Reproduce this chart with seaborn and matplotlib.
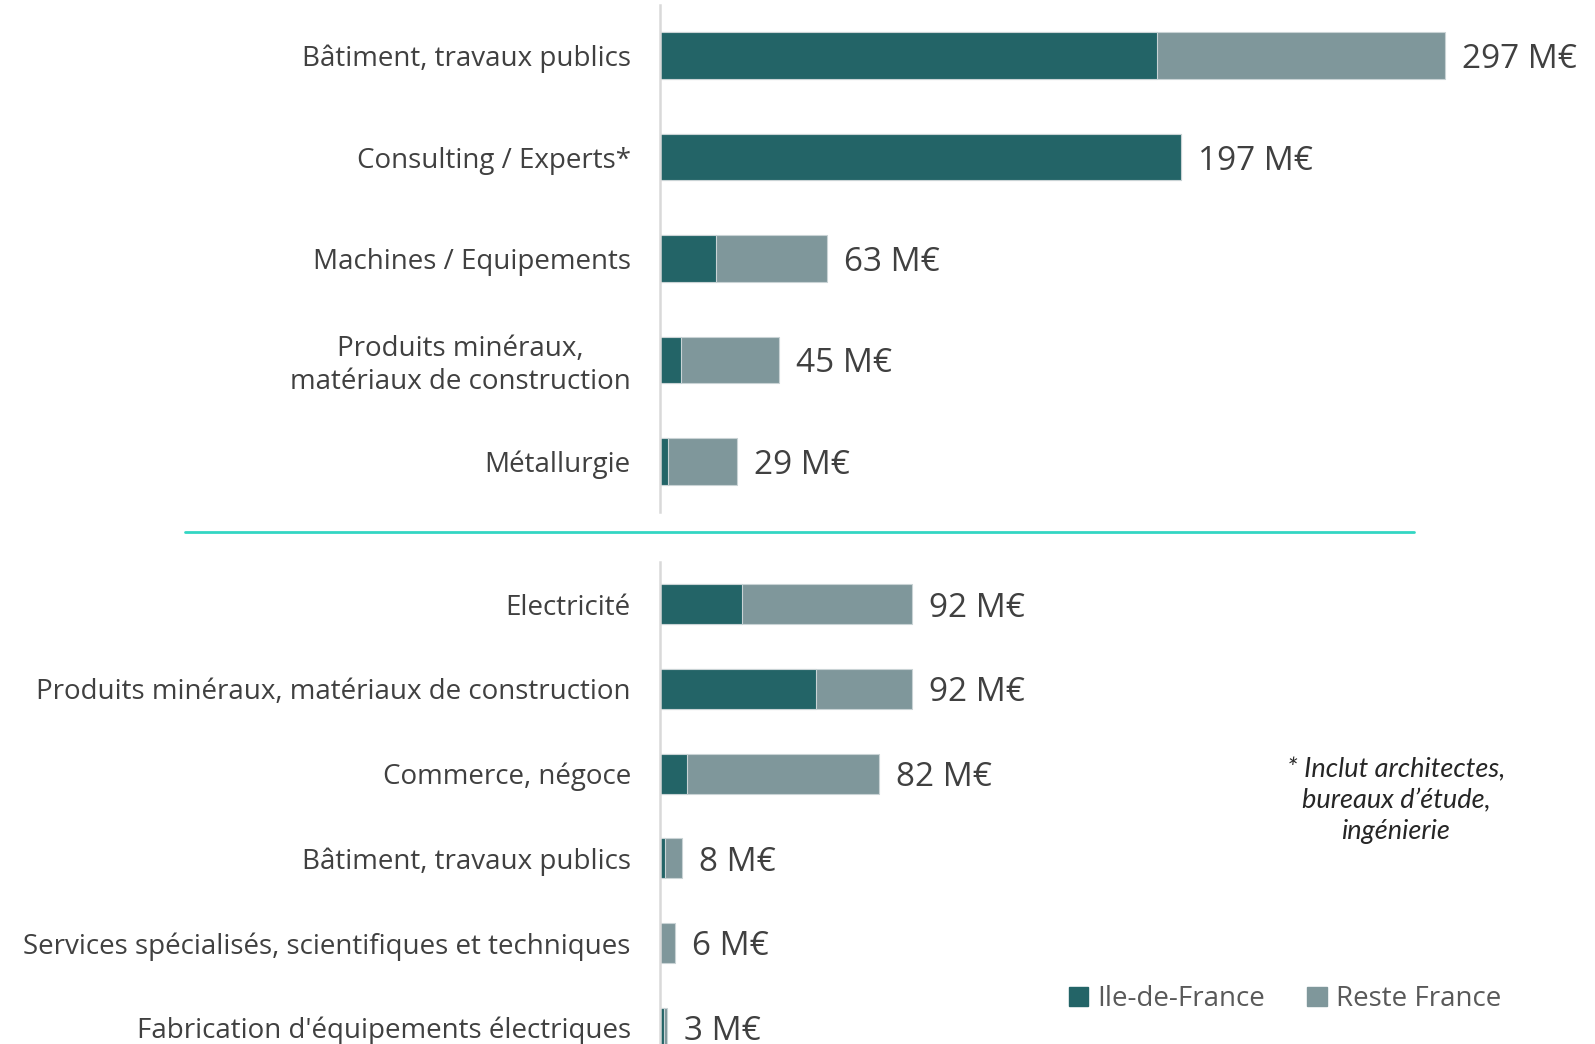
import pandas as pd
import seaborn as sns
import matplotlib.pyplot as plt
from matplotlib.lines import Line2D
from matplotlib.patches import Patch

# Données (M€)
haut_secteurs = ['Bâtiment, travaux publics', 'Consulting / Experts*', 'Machines / Equipements',
                 'Produits minéraux,\nmatériaux de construction', 'Métallurgie']
haut_idf = [188, 197, 21, 8, 3]
haut_reste = [109, 0, 42, 37, 26]
haut_labels = ['297 M€', '197 M€', '63 M€', '45 M€', '29 M€']

bas_secteurs = ['Electricité', 'Produits minéraux, matériaux de construction', 'Commerce, négoce',
                'Bâtiment, travaux publics', 'Services spécialisés, scientifiques et techniques',
                "Fabrication d'équipements électriques"]
bas_idf = [30, 57, 10, 2, 0, 1.5]
bas_reste = [62, 35, 70, 6, 5.5, 1]
bas_labels = ['92 M€', '92 M€', '82 M€', '8 M€', '6 M€', '3 M€']

couleur_idf = '#236467'
couleur_reste = '#7f979b'
gris_texte = '#404040'

sns.set_theme(style='white')
plt.rcParams['font.family'] = ['Open Sans', 'DejaVu Sans']

fig = plt.figure(figsize=(15.95, 10.44), dpi=100)
ax_haut = fig.add_axes([660 / 1595, 0.5096, 935 / 1595, 0.4856])
ax_bas = fig.add_axes([660 / 1595, -0.0249, 935 / 1595, 0.4866])


def tracer(ax, secteurs, idf, reste, labels, xmax, largeur):
    df = pd.DataFrame({'secteur': secteurs, 'idf': idf, 'reste': reste})
    df['total'] = df['idf'] + df['reste']
    sns.barplot(data=df, y='secteur', x='total', orient='h', color=couleur_reste,
                width=largeur, saturation=1, edgecolor='#c9d3d5', linewidth=0.8, ax=ax)
    sns.barplot(data=df, y='secteur', x='idf', orient='h', color=couleur_idf,
                width=largeur, saturation=1, edgecolor='#c9d3d5', linewidth=0.8, ax=ax)
    for i, (tot, lab) in enumerate(zip(df['total'], labels)):
        ax.text(tot + 17 * xmax / 935, i, lab, va='center_baseline', ha='left',
                fontsize=24, color=gris_texte)
    ax.set_xlim(0, xmax)
    ax.set_ylim(len(secteurs) - 0.5, -0.5)
    ax.set_xlabel('')
    ax.set_ylabel('')
    ax.set_xticks([])
    ax.tick_params(axis='y', length=0, pad=21, labelsize=20, labelcolor=gris_texte)
    for lab in ax.get_yticklabels():
        lab.set_horizontalalignment('right')
        lab.set_multialignment('center')
    for s in ['top', 'right', 'bottom']:
        ax.spines[s].set_visible(False)
    ax.spines['left'].set_color('#d9d9d9')
    ax.spines['left'].set_linewidth(1.8)


tracer(ax_haut, haut_secteurs, haut_idf, haut_reste, haut_labels, 935 / 2.643, 0.46)
tracer(ax_bas, bas_secteurs, bas_idf, bas_reste, bas_labels, 935 / 2.74, 0.47)

# ligne de séparation
fig.add_artist(Line2D([185 / 1595, 1414 / 1595], [1 - 532 / 1044] * 2,
                      color='#33d6c3', linewidth=2))

# note
fig.text(1396 / 1595, 1 - 801 / 1044,
         '* Inclut architectes,\nbureaux d’étude,\ningénierie',
         ha='center', va='center', fontsize=19.5, style='italic', color='#262626',
         linespacing=1.3, family=['Lato', 'DejaVu Sans'])

# légende
handles = [Patch(color=couleur_idf, label='Ile-de-France'),
           Patch(color=couleur_reste, label='Reste France')]
fig.legend(handles=handles, loc='center', bbox_to_anchor=(1285 / 1595, 1 - 999 / 1044),
           ncol=2, frameon=False, fontsize=20, labelcolor='#595959',
           handlelength=0.7, handleheight=0.7, handletextpad=0.35, columnspacing=1.5)

fig.savefig('out.png', dpi=100)
